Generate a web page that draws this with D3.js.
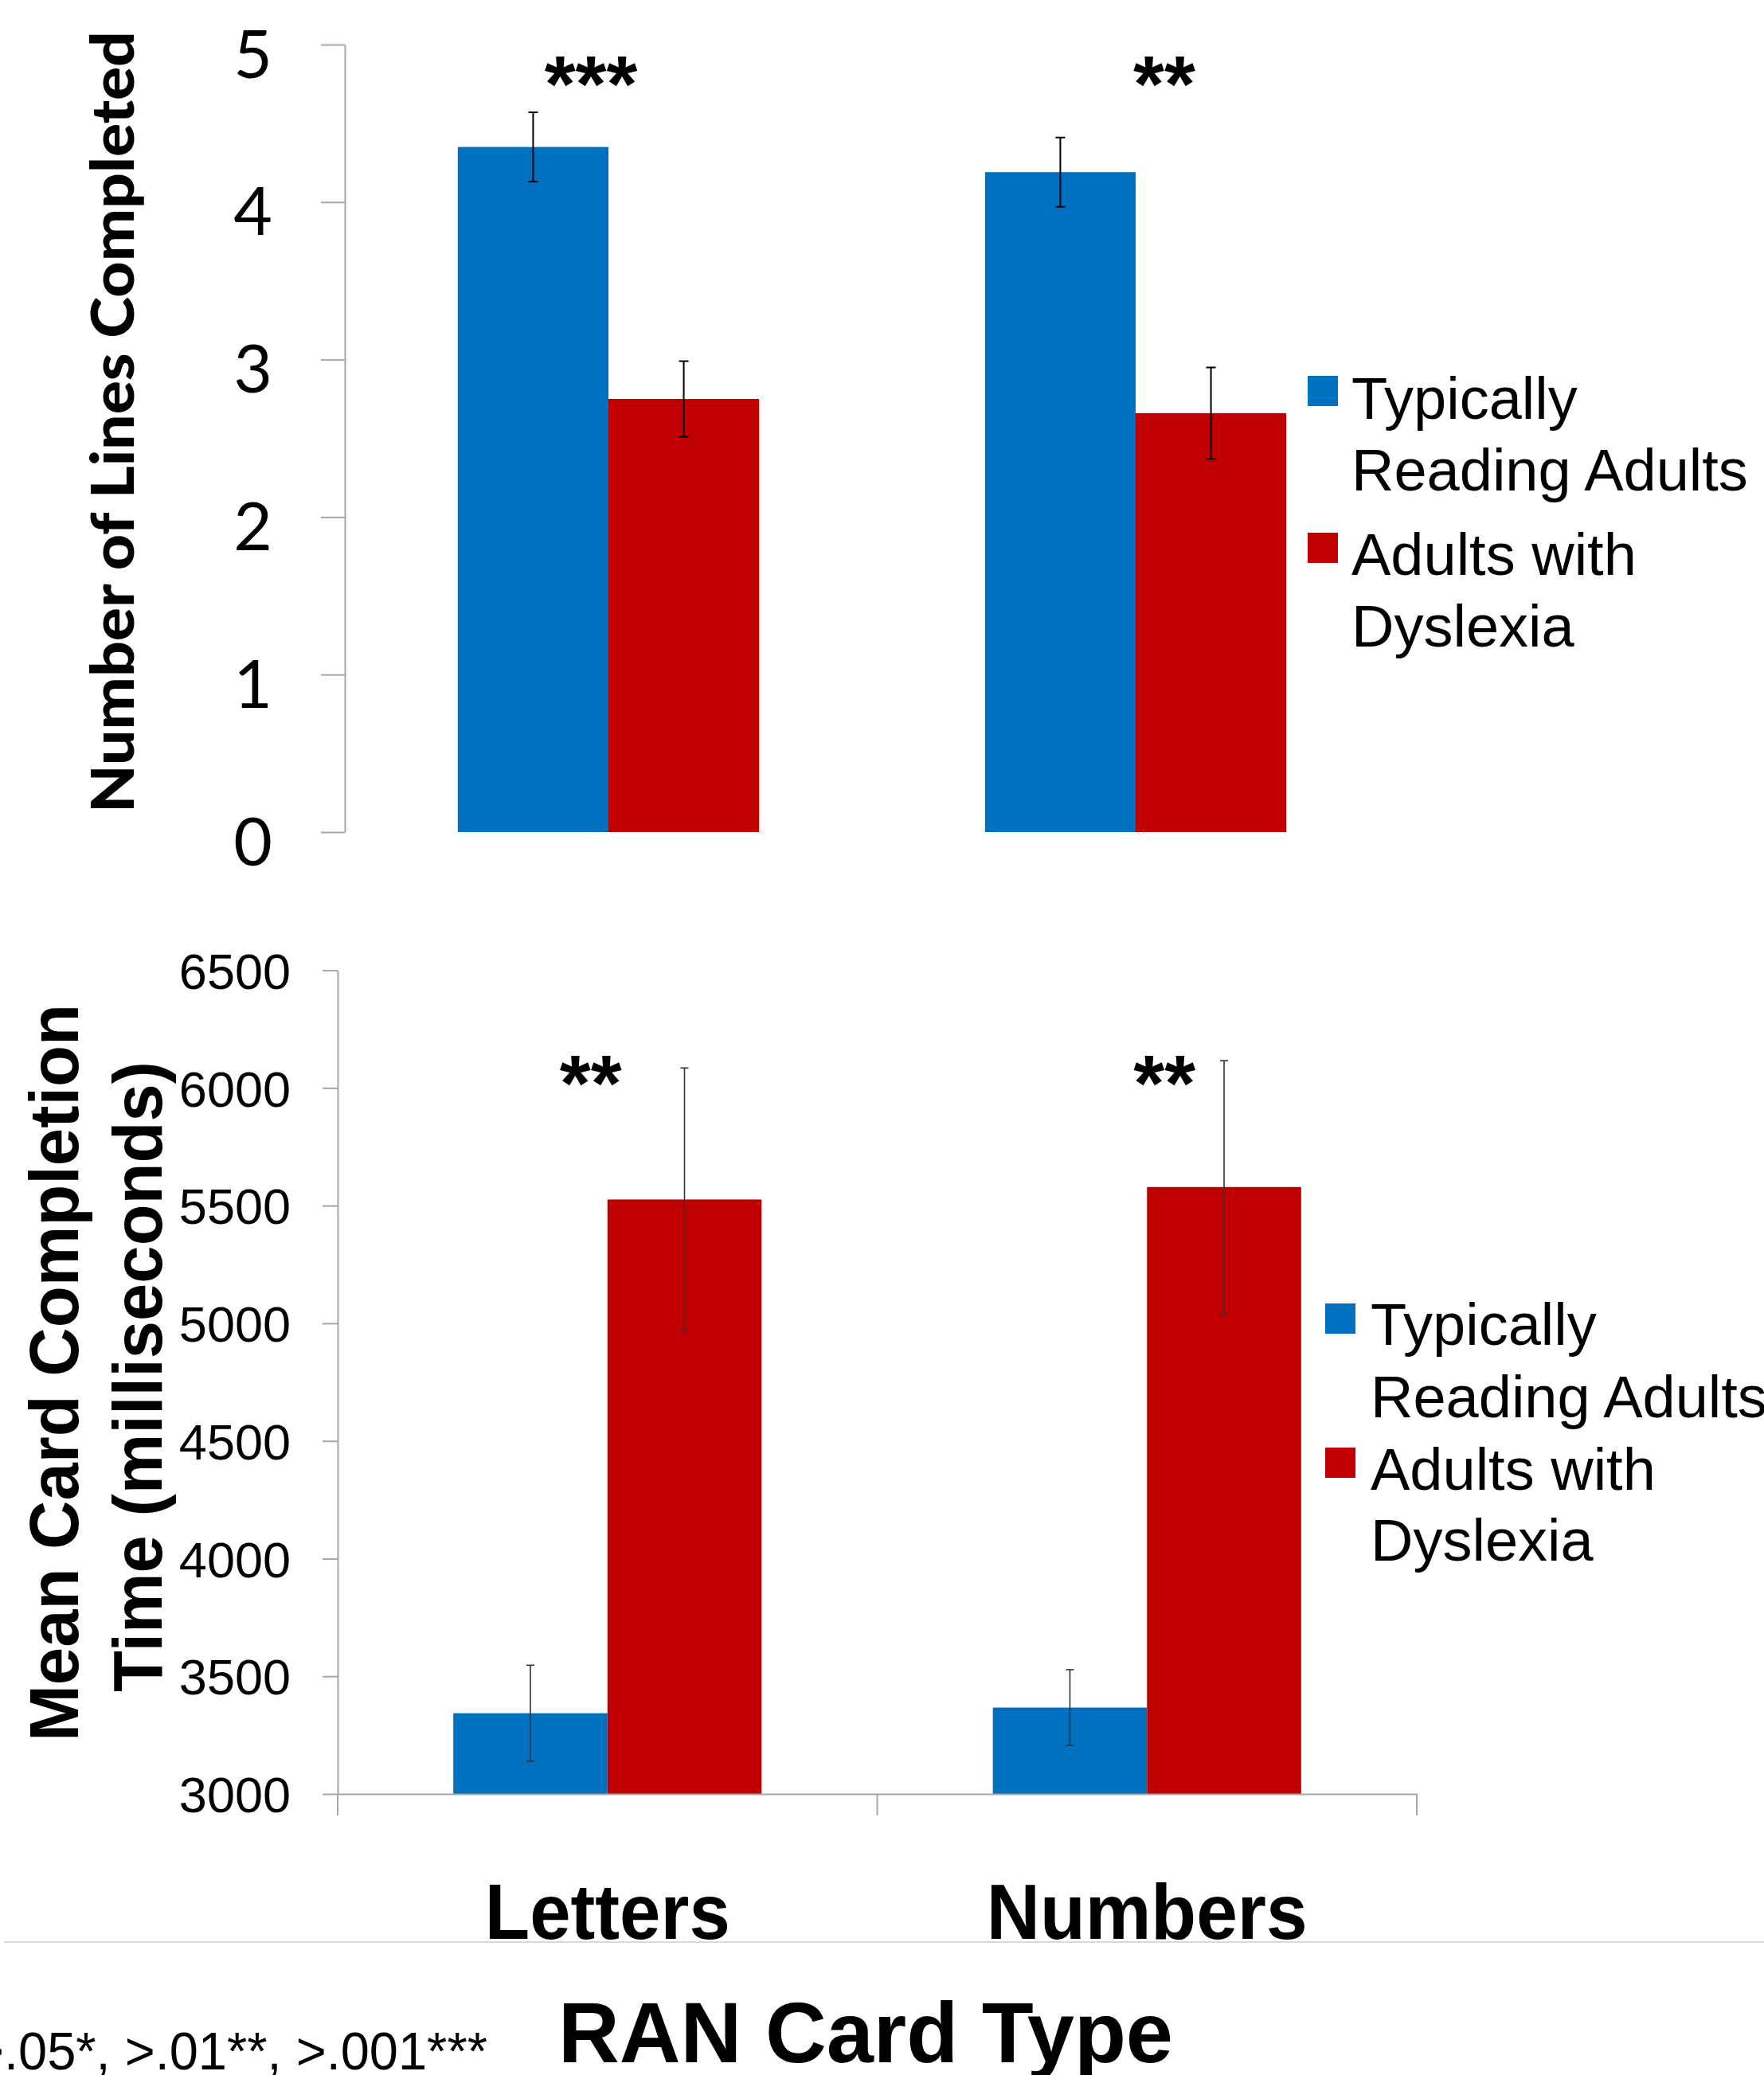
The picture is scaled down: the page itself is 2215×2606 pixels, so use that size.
<!DOCTYPE html>
<html><head><meta charset="utf-8">
<script src="https://cdn.jsdelivr.net/npm/d3@7"></script>
<style>body{margin:0;background:#fff}svg{display:block}</style>
</head><body><svg id="c" width="2215" height="2606"></svg>
<script>
// ---------------- data ----------------
const categories = ["Letters", "Numbers"];
const seriesNames = ["Typically Reading Adults", "Adults with Dyslexia"];
const seriesColors = ["#0070C0", "#C00000"];
const linesTypical = [4.35, 4.19];
const linesTypicalErr = [0.22, 0.22];
const linesDyslexia = [2.75, 2.66];
const linesDyslexiaErr = [0.24, 0.29];
const timeTypical = [3343, 3367];
const timeTypicalErr = [204, 161];
const timeDyslexia = [5526, 5579];
const timeDyslexiaErr = [559, 537];
const linesTicks = [0, 1, 2, 3, 4, 5];
const timeTicks = [3000, 3500, 4000, 4500, 5000, 5500, 6000, 6500];
const linesSig = ["***", "**"];
const timeSig = ["**", "**"];
const legendLines = [["Typically", "Reading Adults"], ["Adults with", "Dyslexia"]];
const footnote = ">.05*, >.01**, >.001***";
const xTitle = "RAN Card Type";
const topYTitle = "Number of Lines Completed";
const bottomYTitle = ["Mean Card Completion", "Time (milliseconds)"];

// ---------------- setup ----------------
const svg = d3.select("#c");
svg.append("rect").attr("width", 2215).attr("height", 2606).attr("fill", "#fff");
const ARIAL = "'Liberation Sans', Arial, sans-serif";
const CALIBRI = "Lato, Carlito, Calibri, sans-serif";
const AXIS_GRAY = "#a6a6a6";

function fitLen(sel, len) {
  sel.attr("textLength", len).attr("lengthAdjust", "spacingAndGlyphs");
}

function groupedBars(g, x0, y, typ, typErr, dys, dysErr, errStroke, errWidth, capW) {
  const gap = x0.bandwidth() * 0.75 / 1.75 / 2;
  const x1 = d3.scaleBand().domain(seriesNames).range([gap, x0.bandwidth() - gap]);
  const rows = categories.map((c, i) => ({
    cat: c,
    vals: [
      { s: seriesNames[0], v: typ[i], e: typErr[i], color: seriesColors[0] },
      { s: seriesNames[1], v: dys[i], e: dysErr[i], color: seriesColors[1] }
    ]
  }));
  const base = y.domain()[0];
  const grp = g.selectAll("g.cat").data(rows).join("g")
    .attr("class", "cat")
    .attr("transform", d => `translate(${x0(d.cat)},0)`);
  grp.selectAll("rect").data(d => d.vals).join("rect")
    .attr("x", d => x1(d.s))
    .attr("width", x1.bandwidth())
    .attr("y", d => y(d.v))
    .attr("height", d => y(base) - y(d.v))
    .attr("fill", d => d.color);
  const eb = grp.selectAll("g.err").data(d => d.vals).join("g").attr("class", "err")
    .attr("stroke", errStroke).attr("stroke-width", errWidth);
  const cx = d => x1(d.s) + x1.bandwidth() / 2;
  eb.append("line")
    .attr("x1", cx).attr("x2", cx)
    .attr("y1", d => y(d.v + d.e)).attr("y2", d => y(d.v - d.e));
  eb.append("line")
    .attr("x1", d => cx(d) - capW).attr("x2", d => cx(d) + capW)
    .attr("y1", d => y(d.v + d.e)).attr("y2", d => y(d.v + d.e));
  eb.append("line")
    .attr("x1", d => cx(d) - capW).attr("x2", d => cx(d) + capW)
    .attr("y1", d => y(d.v - d.e)).attr("y2", d => y(d.v - d.e));
}

function legend(g, x, squareYs, baselines, textX) {
  seriesNames.forEach((s, i) => {
    g.append("rect").attr("x", x).attr("y", squareYs[i]).attr("width", 38).attr("height", 38)
      .attr("fill", seriesColors[i]);
    legendLines[i].forEach((t, j) => {
      g.append("text").attr("x", textX).attr("y", baselines[i][j])
        .attr("font-family", ARIAL).attr("font-size", 74).attr("fill", "#000")
        .text(t);
    });
  });
}

// ---------------- top chart ----------------
const topG = svg.append("g");
const yT = d3.scaleLinear().domain([0, 5]).range([1045, 56]);
const x0T = d3.scaleBand().domain(categories).range([433, 1757]).padding(0);

const axT = topG.append("g").attr("transform", "translate(433,0)")
  .call(d3.axisLeft(yT).tickValues(linesTicks).tickSize(30).tickSizeOuter(0).tickPadding(61).tickFormat(d3.format("d")));
axT.select(".domain").attr("stroke", AXIS_GRAY).attr("stroke-width", 2);
axT.selectAll(".tick line").attr("stroke", AXIS_GRAY).attr("stroke-width", 2);
axT.selectAll(".tick text").attr("font-family", CALIBRI).attr("font-size", 84)
  .attr("fill", "#000").attr("dy", "0.49em");

groupedBars(topG.append("g"), x0T, yT, linesTypical, linesTypicalErr, linesDyslexia, linesDyslexiaErr, "#000", 2, 6);

const sigOffT = [-22, 36];
topG.selectAll("text.sig").data(categories).join("text").attr("class", "sig")
  .attr("x", (d, i) => x0T(d) + x0T.bandwidth() / 2 + sigOffT[i])
  .attr("y", 140)
  .attr("text-anchor", "middle").attr("font-family", ARIAL).attr("font-weight", "bold")
  .attr("font-size", 100).text((d, i) => linesSig[i]);

topG.append("text")
  .attr("transform", "translate(168,530) rotate(-90)")
  .attr("text-anchor", "middle").attr("font-family", CALIBRI).attr("font-weight", "900")
  .attr("font-size", 74).attr("fill", "#000").text(topYTitle)
  .call(fitLen, 982);

legend(topG, 1642, [472, 669], [[526, 616], [722, 812]], 1697);

// ---------------- bottom chart ----------------
const botG = svg.append("g");
const yB = d3.scaleLinear().domain([3000, 6500]).range([2253, 1218.6]);
const x0B = d3.scaleBand().domain(categories).range([424, 1779]).padding(0);

const axB = botG.append("g").attr("transform", "translate(424,0)")
  .call(d3.axisLeft(yB).tickValues(timeTicks).tickSize(19).tickSizeOuter(0).tickPadding(40).tickFormat(d3.format("d")));
axB.select(".domain").attr("stroke", AXIS_GRAY).attr("stroke-width", 2);
axB.selectAll(".tick line").attr("stroke", AXIS_GRAY).attr("stroke-width", 2);
axB.selectAll(".tick text").attr("font-family", ARIAL).attr("font-size", 63)
  .attr("fill", "#000").attr("dy", "0.36em");

groupedBars(botG.append("g"), x0B, yB, timeTypical, timeTypicalErr, timeDyslexia, timeDyslexiaErr, "#333", 1.6, 5);

const axX = botG.append("g").attr("transform", `translate(0,${yB(3000)})`)
  .call(d3.axisBottom(x0B).tickSize(0).tickSizeOuter(0).tickPadding(112));
axX.select(".domain").attr("stroke", AXIS_GRAY).attr("stroke-width", 2);
axX.selectAll(".tick text").attr("font-family", ARIAL).attr("font-weight", "bold")
  .attr("font-size", 98).attr("fill", "#000")
  .each(function (d, i) { d3.select(this).call(fitLen, [308, 403][i]); });
const bounds = [x0B.range()[0], ...categories.map(c => x0B(c) + x0B.bandwidth())];
axX.selectAll("line.bnd").data(bounds).join("line").attr("class", "bnd")
  .attr("x1", d => d).attr("x2", d => d).attr("y1", 0).attr("y2", 27)
  .attr("stroke", AXIS_GRAY).attr("stroke-width", 2);

const sigOffB = [-21, 22];
botG.selectAll("text.sig").data(categories).join("text").attr("class", "sig")
  .attr("x", (d, i) => x0B(d) + x0B.bandwidth() / 2 + sigOffB[i])
  .attr("y", 1395)
  .attr("text-anchor", "middle").attr("font-family", ARIAL).attr("font-weight", "bold")
  .attr("font-size", 100).text((d, i) => timeSig[i]);

botG.append("text")
  .attr("transform", "translate(98,1724) rotate(-90)")
  .attr("text-anchor", "middle").attr("font-family", ARIAL).attr("font-weight", "bold")
  .attr("font-size", 87).attr("fill", "#000").text(bottomYTitle[0])
  .call(fitLen, 926);
botG.append("text")
  .attr("transform", "translate(203,1729) rotate(-90)")
  .attr("text-anchor", "middle").attr("font-family", ARIAL).attr("font-weight", "bold")
  .attr("font-size", 87).attr("fill", "#000").text(bottomYTitle[1])
  .call(fitLen, 792);

legend(botG, 1664, [1637, 1818], [[1689, 1780], [1871, 1960]], 1721);

// ---------------- footer ----------------
svg.append("line").attr("x1", 5).attr("x2", 2215).attr("y1", 2439).attr("y2", 2439)
  .attr("stroke", "#d9d9d9").attr("stroke-width", 2);
svg.append("text").attr("x", 701).attr("y", 2590)
  .attr("font-family", ARIAL).attr("font-weight", "bold").attr("font-size", 107)
  .attr("fill", "#000").text(xTitle).call(fitLen, 772);
svg.append("text").attr("x", -33).attr("y", 2599)
  .attr("font-family", ARIAL).attr("font-size", 67)
  .attr("fill", "#000").text(footnote).call(fitLen, 645);
</script></body></html>
